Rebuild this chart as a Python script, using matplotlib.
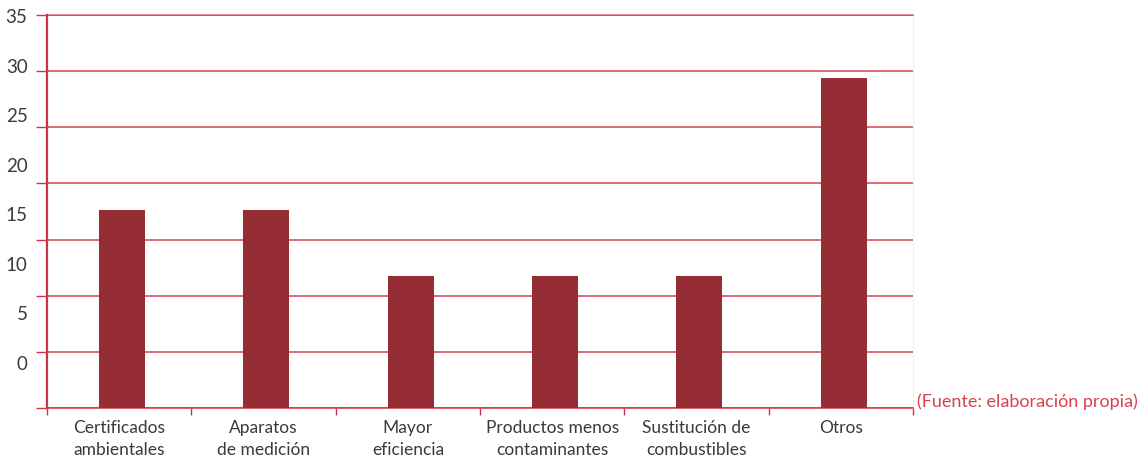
import numpy as np
import matplotlib.pyplot as plt

plt.rcParams['font.family'] = ['Lato', 'DejaVu Sans']

categorias = ['Certificados\nambientales', 'Aparatos\nde medición', 'Mayor\neficiencia',
              'Productos menos\ncontaminantes', 'Sustitución de\ncombustibles', 'Otros']
porcentajes = [17.65, 17.65, 11.76, 11.76, 11.76, 29.41]
ticks_y = [0, 5, 10, 15, 20, 25, 30, 35]

rojo = '#CE3446'
barra = '#962D35'
gris = '#3a3a3a'

W, H = 1148, 464
fig = plt.figure(figsize=(W / 100, H / 100), dpi=100)
ax = fig.add_axes([47 / W, (H - 409) / H, (913 - 47) / W, (409 - 16) / H])

x = np.arange(len(categorias))
ax.bar(x + 0.02, porcentajes, width=0.32, color=barra, zorder=3)

ax.set_xlim(-0.5, len(categorias) - 0.5)
ax.set_ylim(0, 35)
ax.set_yticks(ticks_y)
ax.set_yticklabels([])
ax.tick_params(axis='y', length=8, width=1, color=rojo, direction='out')
ax.yaxis.grid(True, color=rojo, linewidth=1.2, alpha=0.85)
ax.set_axisbelow(True)

ax.set_xticks(x)
ax.set_xticklabels(categorias, fontsize=12.5, color=gris, linespacing=1.45)
ax.tick_params(axis='x', length=0, pad=8)
ax.set_xticks(np.arange(len(categorias) + 1) - 0.5, minor=True)
ax.tick_params(axis='x', which='minor', length=5, width=1, color=rojo)

ax.spines['left'].set_color(rojo)
ax.spines['left'].set_linewidth(1.6)
ax.spines['bottom'].set_color(rojo)
ax.spines['bottom'].set_linewidth(1.1)
ax.spines['right'].set_color('#FBF3C8')
ax.spines['top'].set_color(rojo)
ax.spines['top'].set_alpha(0.6)
ax.spines['top'].set_linewidth(1.3)

# etiquetas del eje y en su propia escala
ax2 = ax.twinx()
ax2.set_ylim(-4.64, 35)
ax2.yaxis.tick_left()
ax2.set_yticks(ticks_y)
ax2.set_yticklabels([str(t) for t in ticks_y], fontsize=13.5, color=gris)
ax2.tick_params(axis='y', length=0, pad=14)
for s in ax2.spines.values():
    s.set_visible(False)

fig.text(917 / W, (H - 402) / H, '(Fuente: elaboración propia)', fontsize=13,
         color='#D9414E', ha='left', va='center')

fig.savefig('out.png', dpi=100)
